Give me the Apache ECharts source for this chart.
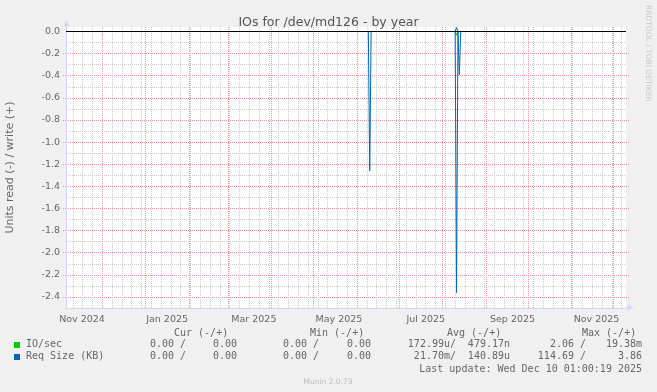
<!DOCTYPE html>
<html>
<head>
<meta charset="utf-8">
<script src="https://cdn.jsdelivr.net/npm/echarts@6/dist/echarts.min.js"></script>
<style>
html,body{margin:0;padding:0;background:#F0F0F0;}
#chart{width:657px;height:392px;}
</style>
</head>
<body>
<div id="chart"></div>
<script>
// ---- data ----
const graphTitle = 'IOs for /dev/md126 - by year';
const yAxisTitle = 'Units read (-) / write (+)';
const periodEnd = '2025-12-10T01:00:19Z';
const periodDays = 400;

// IO/sec (green)
const ioDates  = ['2024-11-05T01:00:19Z', '2025-08-10', '2025-08-11', '2025-08-12', '2025-12-10T01:00:19Z'];
const ioRead   = [0, 0, -0.033, 0, 0];
const ioWrite  = [0, 0, 0.012, 0, 0];

// Req Size (KB) (blue)
const reqDates = ['2024-11-05T01:00:19Z', '2025-06-09', '2025-06-10', '2025-06-11',
                  '2025-08-10', '2025-08-11', '2025-08-12', '2025-08-13', '2025-08-14', '2025-12-10T01:00:19Z'];
const reqRead  = [0, 0, -1.26, 0, 0, -2.36, 0, -0.39, 0, 0];
const reqWrite = [0, 0, 0, 0, 0, 0.036, 0, 0, 0, 0];

// axis ticks
const yLabelValues = [0, -0.2, -0.4, -0.6, -0.8, -1.0, -1.2, -1.4, -1.6, -1.8, -2.0, -2.2, -2.4];
const yMin = -2.5, yMax = 0.0407;
const xLabelDates = ['2024-11-16T12:00:00Z', '2025-01-16T06:00:00Z', '2025-03-19T06:00:00Z', '2025-05-19T00:00:00Z',
                     '2025-07-20T00:00:00Z', '2025-09-20T00:00:00Z', '2025-11-19T00:00:00Z'];
const xLabelTexts = ['Nov 2024', 'Jan 2025', 'Mar 2025', 'May 2025', 'Jul 2025', 'Sep 2025', 'Nov 2025'];
const monthStarts = ['2024-12-01', '2025-01-01', '2025-02-01', '2025-03-01', '2025-04-01', '2025-05-01', '2025-06-01',
                     '2025-07-01', '2025-08-01', '2025-09-01', '2025-10-01', '2025-11-01', '2025-12-01'];
const firstWeekLine = '2024-11-10';

// legend table
const legendNames = ['IO/sec', 'Req Size (KB)'];
const legendColors = ['#00CC00', '#0066B3'];
const legendCur = [['0.00 /', '0.00'], ['0.00 /', '0.00']];
const legendMin = [['0.00 /', '0.00'], ['0.00 /', '0.00']];
const legendAvg = [['172.99u/', '479.17n'], ['21.70m/', '140.89u']];
const legendMax = [['2.06 /', '19.38m'], ['114.69 /', '3.86']];
const lastUpdate = 'Last update: Wed Dec 10 01:00:19 2025';
const footer = 'Munin 2.0.73';
const sideText = 'RRDTOOL / TOBI OETIKER';

// ---- build ----
const DAY = 86400000;
const tEnd = Date.parse(periodEnd);
const tStart = tEnd - periodDays * DAY;
const t = s => Date.parse(s);
const pairs = (dates, vals) => dates.map((d, i) => [t(d), vals[i]]);
const xLabelTimes = xLabelDates.map(t);

const weekLines = [];
for (let w = t(firstWeekLine); w < tEnd; w += 7 * DAY) weekLines.push(w);
const minorY = [], majorY = [];
for (let k = 1; k <= 24; k++) {
  const v = +(-k / 10).toFixed(1);
  if (k % 2 === 0) majorY.push(v); else minorY.push(v);
}
const minorColor = '#CCCCCC';
const majorColor = '#EE9A9A';

const FONT = '"DejaVu Sans", sans-serif';
const MONO = '"DejaVu Sans Mono", monospace';
const TXT = '#666666';
const AXIS = '#CFD6F8';

const graphics = [];
const addText = (x, y, text, opts) => graphics.push(Object.assign({
  type: 'text', x: x, y: y, silent: true,
  style: Object.assign({ text: text, fill: TXT, font: '10px ' + MONO, textVerticalAlign: 'middle', textAlign: 'left' }, opts || {})
}));
[['Cur (-/+)', 174], ['Min (-/+)', 310], ['Avg (-/+)', 447], ['Max (-/+)', 582]].forEach(h => addText(h[1], 333, h[0]));
const rowY = [344.5, 356.5];
legendNames.forEach((name, i) => {
  graphics.push({ type: 'rect', silent: true, shape: { x: 14, y: Math.round(rowY[i]) - 3, width: 6, height: 6 }, style: { fill: legendColors[i] } });
  addText(26, rowY[i], name);
  addText(186, rowY[i], legendCur[i][0], { textAlign: 'right' });
  addText(237, rowY[i], legendCur[i][1], { textAlign: 'right' });
  addText(319, rowY[i], legendMin[i][0], { textAlign: 'right' });
  addText(371, rowY[i], legendMin[i][1], { textAlign: 'right' });
  addText(456, rowY[i], legendAvg[i][0], { textAlign: 'right' });
  addText(510, rowY[i], legendAvg[i][1], { textAlign: 'right' });
  addText(586, rowY[i], legendMax[i][0], { textAlign: 'right' });
  addText(642, rowY[i], legendMax[i][1], { textAlign: 'right' });
});
addText(642, 369, lastUpdate, { textAlign: 'right' });
graphics.push({ type: 'text', x: 328, y: 382, silent: true,
  style: { text: footer, fill: '#BBBBBB', font: '7.5px ' + FONT, textAlign: 'center', textVerticalAlign: 'middle' } });
graphics.push({ type: 'text', x: 648, y: 5, rotation: -Math.PI / 2, silent: true,
  style: { text: sideText, fill: '#C8C8C8', font: '7.5px ' + FONT, textAlign: 'left', textVerticalAlign: 'middle' } });
graphics.push({ type: 'text', x: 10.5, y: 167.5, rotation: Math.PI / 2, silent: true,
  style: { text: yAxisTitle, fill: TXT, font: '11px ' + FONT, textAlign: 'center', textVerticalAlign: 'middle' } });
// axis arrows (decoration)
graphics.push({ type: 'polygon', silent: true, shape: { points: [[66.5, 20.5], [63.5, 26.5], [69.5, 26.5]] }, style: { fill: AXIS } });
graphics.push({ type: 'rect', silent: true, shape: { x: 66, y: 26, width: 1, height: 1 }, style: { fill: AXIS } });
graphics.push({ type: 'polygon', silent: true, shape: { points: [[633.5, 307.5], [627.5, 304.5], [627.5, 310.5]] }, style: { fill: AXIS } });
graphics.push({ type: 'rect', silent: true, shape: { x: 626, y: 307, width: 2, height: 1 }, style: { fill: AXIS } });

// helper axes that only draw grid lines
const gridXAxis = (values, color, tick) => ({
  type: 'value', min: tStart, max: tEnd, position: 'bottom',
  axisLine: { show: false }, axisLabel: { show: false },
  axisTick: { show: !!tick, customValues: values, length: 3, lineStyle: { color: color, type: [1, 1] } },
  splitLine: { show: true, lineStyle: { color: color, width: 1, type: [1, 1] } }
});
const gridYAxis = (values, color, tick, pos, split) => ({
  type: 'value', min: yMin, max: yMax, position: pos || 'left',
  axisLine: { show: false }, axisLabel: { show: false },
  axisTick: { show: !!tick, customValues: values, length: 3, lineStyle: { color: color, type: [1, 1] } },
  splitLine: { show: split !== false, lineStyle: { color: color, width: 1, type: [1, 1] } }
});

const chart = echarts.init(document.getElementById('chart'), null, { renderer: 'canvas' });
chart.setOption({
  animation: false,
  backgroundColor: '#F0F0F0',
  title: {
    text: graphTitle, left: 'center', top: 11,
    textStyle: { fontFamily: FONT, fontSize: 12.5, fontWeight: 'normal', color: '#555555' }
  },
  grid: { left: 66, right: 31, top: 27, bottom: 84, show: true, backgroundColor: '#FFFFFF', borderWidth: 0, outerBoundsMode: 'none' },
  xAxis: [
    {
      type: 'value', min: tStart, max: tEnd,
      splitLine: { show: false }, axisTick: { show: false },
      axisLine: { onZero: false, lineStyle: { color: AXIS, width: 1 } },
      axisLabel: {
        customValues: xLabelTimes, margin: 7, color: TXT, fontFamily: FONT, fontSize: 9.5,
        formatter: v => xLabelTexts[xLabelTimes.indexOf(v)] || ''
      }
    },
    gridXAxis(weekLines, minorColor, false),
    gridXAxis(monthStarts.map(t), majorColor, true)
  ],
  yAxis: [
    {
      type: 'value', min: yMin, max: yMax,
      splitLine: { show: false }, axisTick: { show: false },
      axisLine: { show: true, onZero: false, lineStyle: { color: AXIS, width: 1 } },
      axisLabel: {
        customValues: yLabelValues, margin: 6, color: TXT, fontFamily: FONT, fontSize: 9.5,
        formatter: v => v.toFixed(1)
      }
    },
    gridYAxis(minorY, minorColor, false),
    gridYAxis(majorY, majorColor, true),
    gridYAxis(majorY, majorColor, true, 'right', false)
  ],
  graphic: graphics,
  series: [
    { name: 'IO/sec read', type: 'line', z: 2, showSymbol: false, data: pairs(ioDates, ioRead), lineStyle: { color: legendColors[0], width: 1 }, itemStyle: { color: legendColors[0] } },
    { name: 'IO/sec write', type: 'line', z: 2, showSymbol: false, data: pairs(ioDates, ioWrite), lineStyle: { color: legendColors[0], width: 1 }, itemStyle: { color: legendColors[0] } },
    { name: 'Req Size read', type: 'line', z: 2, showSymbol: false, data: pairs(reqDates, reqRead), lineStyle: { color: legendColors[1], width: 1 }, itemStyle: { color: legendColors[1] } },
    { name: 'Req Size write', type: 'line', z: 2, showSymbol: false, data: pairs(reqDates, reqWrite), lineStyle: { color: legendColors[1], width: 1 }, itemStyle: { color: legendColors[1] } },
    { name: 'zero', type: 'line', z: 3, data: [], silent: true,
      markLine: { z: 6, silent: true, symbol: 'none', label: { show: false }, animation: false,
        lineStyle: { color: '#000000', width: 1, type: 'solid' }, data: [{ yAxis: 0 }] } }
  ]
});
</script>
</body>
</html>
